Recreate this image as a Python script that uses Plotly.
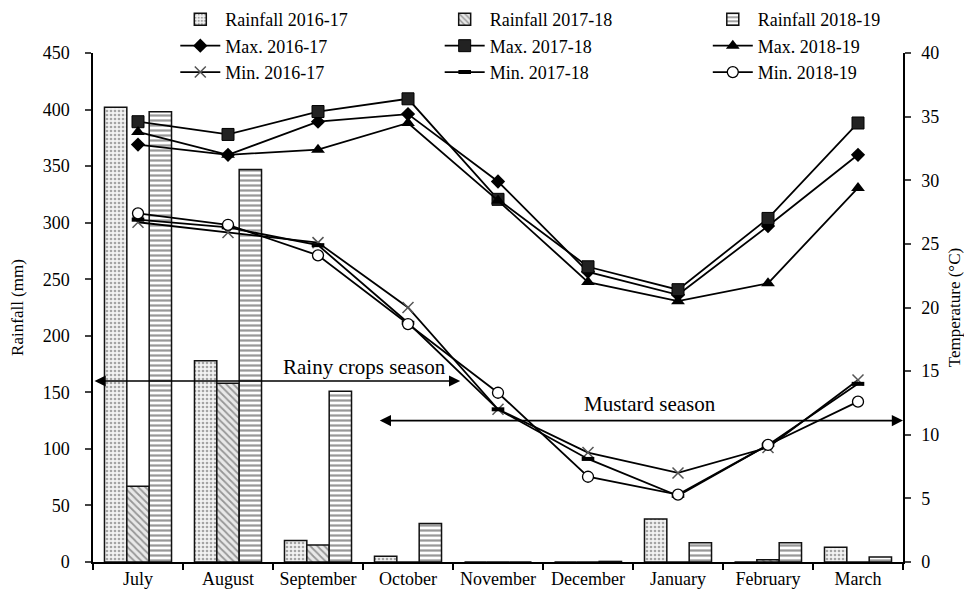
import plotly.graph_objects as go

months = ["July", "August", "September", "October", "November", "December", "January", "February", "March"]
xpos = list(range(len(months)))

rain_2016 = [402, 178, 19, 5, 0, 0, 38, 0, 13]
rain_2017 = [67, 158, 15, 0, 0, 0, 0, 2, 0]
rain_2018 = [398, 347, 151, 34, 0, 0.5, 17, 17, 4.5]

max_2016 = [32.8, 32.0, 34.6, 35.2, 29.9, 22.8, 21.0, 26.4, 32.0]
max_2017 = [34.6, 33.6, 35.4, 36.4, 28.5, 23.2, 21.4, 27.0, 34.5]
max_2018 = [33.8, 32.0, 32.4, 34.5, 28.4, 22.0, 20.5, 21.9, 29.4]

min_2016 = [26.7, 25.9, 25.1, 20.0, 12.0, 8.6, 7.0, 9.0, 14.3]
min_2017 = [26.9, 26.3, 24.9, 18.8, 12.0, 8.1, 5.2, 9.2, 14.0]
min_2018 = [27.4, 26.5, 24.1, 18.7, 13.3, 6.7, 5.3, 9.2, 12.6]

FONT = "Liberation Serif, Times New Roman, serif"

fig = go.Figure()

bar_styles = [
    ("Rainfall 2016-17", rain_2016, "legend", dict(shape=".", size=4, solidity=0.35, fgcolor="#555555", bgcolor="#f2f2f2")),
    ("Rainfall 2017-18", rain_2017, "legend2", dict(shape="\\", size=5, solidity=0.35, fgcolor="#444444", bgcolor="#e8e8e8")),
    ("Rainfall 2018-19", rain_2018, "legend3", dict(shape="-", size=5, solidity=0.45, fgcolor="#333333", bgcolor="white")),
]
for name, vals, lg, pat in bar_styles:
    fig.add_trace(go.Bar(
        x=xpos, y=vals, name=name, legend=lg, legendgroup=name,
        marker=dict(color="white", pattern=pat, line=dict(color="#111111", width=1.5)),
        yaxis="y",
    ))

line_styles = [
    ("Max. 2016-17", max_2016, "legend", dict(symbol="diamond", size=11, color="black")),
    ("Max. 2017-18", max_2017, "legend2", dict(symbol="square", size=12, color="#222222", line=dict(color="black", width=1))),
    ("Max. 2018-19", max_2018, "legend3", dict(symbol="triangle-up", size=12, color="black")),
    ("Min. 2016-17", min_2016, "legend", dict(symbol="x-thin-open", size=11, color="#555555", line=dict(color="#555555", width=1.5))),
    ("Min. 2017-18", min_2017, "legend2", dict(symbol="line-ew-open", size=9, color="black", line=dict(color="black", width=4))),
    ("Min. 2018-19", min_2018, "legend3", dict(symbol="circle", size=11, color="white", line=dict(color="black", width=1.3))),
]
for name, vals, lg, mk in line_styles:
    fig.add_trace(go.Scatter(
        x=xpos, y=vals, name=name, mode="lines+markers", legend=lg, legendgroup=name,
        line=dict(color="black", width=1.8), marker=mk, yaxis="y2",
    ))

# season arrows (data coordinates on rainfall axis)
arrows = [
    dict(x0=-0.5, x1=3.58, y=160),
    dict(x0=2.67, x1=8.5, y=125),
]
for a in arrows:
    fig.add_annotation(x=a["x1"], y=a["y"], ax=a["x0"], ay=a["y"], xref="x", yref="y",
                       axref="x", ayref="y", text="", showarrow=True,
                       arrowhead=2, arrowsize=1.4, arrowwidth=1.6, arrowcolor="black",
                       arrowside="end+start", startarrowhead=2, startarrowsize=1.4)

fig.add_annotation(x=2.52, y=172, xref="x", yref="y", text="Rainy crops season",
                   showarrow=False, font=dict(family=FONT, size=21, color="black"))
fig.add_annotation(x=5.69, y=140, xref="x", yref="y", text="Mustard season",
                   showarrow=False, font=dict(family=FONT, size=21, color="black"))

def legend_at(xp):
    return dict(orientation="v", x=xp, y=1.102, xanchor="left", yanchor="top",
                font=dict(family=FONT, size=18, color="black"),
                bgcolor="rgba(0,0,0,0)", itemwidth=40, traceorder="normal",
                tracegroupgap=7)

fig.update_layout(
    width=964, height=590,
    template="simple_white",
    paper_bgcolor="white", plot_bgcolor="white",
    margin=dict(l=93, r=61, t=53, b=28, autoexpand=False),
    barmode="group", bargap=0.255, bargroupgap=0,
    font=dict(family=FONT, size=17, color="black"),
    showlegend=True,
    legend=legend_at(0.1016),
    legend2=legend_at(0.428),
    legend3=legend_at(0.759),
    xaxis=dict(range=[-0.5, 8.5], tickmode="array", tickvals=xpos, ticktext=months,
               ticks="", showline=True, linecolor="black", linewidth=1.5,
               showgrid=False, zeroline=False, automargin=False, ticklabelstandoff=0,
               tickfont=dict(family=FONT, size=18),
               minor=dict(tickmode="array", tickvals=[i - 0.5 for i in range(10)],
                          ticks="outside", ticklen=6, tickcolor="black", tickwidth=1.5)),
    yaxis=dict(range=[0, 450], dtick=50, ticks="outside", ticklen=6, tickwidth=1.5,
               showline=True, linecolor="black", linewidth=1.5, showgrid=False,
               zeroline=False, automargin=False, ticklabelstandoff=12,
               title=dict(text="Rainfall (mm)", font=dict(family=FONT, size=17), standoff=15),
               tickfont=dict(family=FONT, size=18)),
    yaxis2=dict(range=[0, 40], dtick=5, overlaying="y", side="right", ticks="outside",
                ticklen=6, tickwidth=1.5, showline=True, linecolor="black", linewidth=1.5,
                showgrid=False, zeroline=False, automargin=False, ticklabelstandoff=7,
                title=dict(text="Temperature (°C)", font=dict(family=FONT, size=17), standoff=19),
                tickfont=dict(family=FONT, size=18)),
)

fig.write_html("out.html", config={"displayModeBar": False},
               post_script="document.body.style.margin='0';")
